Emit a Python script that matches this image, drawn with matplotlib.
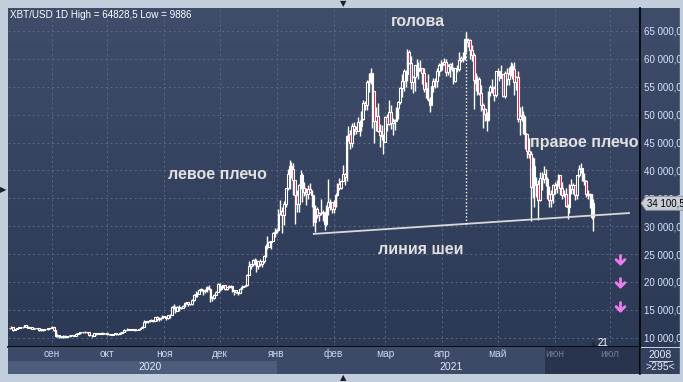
import matplotlib
matplotlib.use("Agg")
import matplotlib.pyplot as plt
import matplotlib.dates as mdates
import numpy as np
import pandas as pd
from matplotlib.patches import Rectangle, Polygon, FancyArrowPatch
from matplotlib.colors import LinearSegmentedColormap
from matplotlib.ticker import FuncFormatter

plt.rcParams['font.family'] = ['Liberation Sans', 'DejaVu Sans']

# ---------------- data (thousands USD): (close, high, low) per day ----------------
start_date = "2020-08-09"
first_open = 11.75
aug20 = [(11.68, 11.81, 11.53), (11.89, 12.06, 11.66), (11.39, 11.93, 11.15), (11.57, 11.61, 11.32),
         (11.78, 11.79, 11.51), (11.76, 11.98, 11.69), (11.85, 11.94, 11.72), (11.91, 11.92, 11.71),
         (12.25, 12.36, 11.84), (11.99, 12.30, 11.88), (11.76, 12.02, 11.68), (11.88, 11.89, 11.66),
         (11.59, 11.92, 11.53), (11.68, 11.69, 11.52), (11.66, 11.72, 11.60), (11.77, 11.80, 11.62),
         (11.37, 11.79, 11.15), (11.49, 11.53, 11.27), (11.32, 11.56, 11.19), (11.54, 11.55, 11.30),
         (11.51, 11.57, 11.47), (11.71, 11.71, 11.46), (11.68, 11.77, 11.60)]
sep20 = [(11.97, 12.07, 11.65), (11.41, 11.96, 11.24), (10.25, 11.46, 10.17), (10.51, 10.66, 10.10),
         (10.17, 10.54, 9.886), (10.28, 10.34, 10.01), (10.37, 10.40, 9.98), (10.13, 10.44, 9.91),
         (10.24, 10.35, 10.12), (10.36, 10.48, 10.22), (10.40, 10.41, 10.20), (10.44, 10.48, 10.36),
         (10.32, 10.55, 10.22), (10.68, 10.78, 10.30), (10.80, 10.93, 10.63), (10.97, 11.09, 10.71),
         (10.95, 11.03, 10.83), (10.94, 11.03, 10.84), (11.09, 11.16, 10.91), (10.94, 11.10, 10.80),
         (10.46, 10.98, 10.37), (10.54, 10.57, 10.41), (10.25, 10.54, 10.15), (10.76, 10.79, 10.22),
         (10.69, 10.76, 10.56), (10.75, 10.77, 10.65), (10.78, 10.80, 10.64), (10.71, 10.95, 10.68),
         (10.84, 10.85, 10.67), (10.78, 10.85, 10.71)]
oct20 = [(10.62, 10.91, 10.53), (10.58, 10.63, 10.43), (10.55, 10.60, 10.51), (10.67, 10.69, 10.53),
         (10.79, 10.80, 10.63), (10.60, 10.80, 10.54), (10.67, 10.68, 10.57), (10.92, 10.94, 10.63),
         (11.06, 11.10, 10.84), (11.30, 11.49, 11.06), (11.38, 11.43, 11.28), (11.56, 11.70, 11.31),
         (11.43, 11.56, 11.37), (11.43, 11.55, 11.30), (11.50, 11.54, 11.30), (11.32, 11.54, 11.22),
         (11.36, 11.38, 11.30), (11.48, 11.49, 11.34), (11.74, 11.82, 11.41), (11.92, 12.01, 11.68),
         (12.82, 13.18, 11.90), (12.97, 13.02, 12.72), (12.93, 13.00, 12.72), (13.11, 13.15, 12.90),
         (13.03, 13.34, 12.91), (13.08, 13.23, 12.77), (13.65, 13.77, 13.06), (13.27, 13.86, 12.99),
         (13.44, 13.63, 12.98), (13.55, 13.68, 13.13), (13.78, 14.03, 13.47)]
nov20 = [(13.74, 13.86, 13.66), (13.55, 13.82, 13.24), (14.02, 14.07, 13.36), (14.15, 14.22, 13.53),
         (15.59, 15.74, 14.09), (15.58, 15.96, 15.18), (14.82, 15.77, 14.42), (15.48, 15.65, 14.74),
         (15.33, 15.79, 14.85), (15.29, 15.46, 15.08), (15.70, 15.93, 15.28), (16.28, 16.32, 15.44),
         (16.32, 16.46, 15.99), (16.07, 16.32, 15.73), (15.96, 16.12, 15.82), (16.72, 16.88, 15.87),
         (17.65, 17.80, 16.57), (17.80, 18.39, 17.24), (17.82, 18.11, 17.36), (18.62, 18.77, 17.77),
         (18.64, 18.93, 18.42), (18.37, 18.68, 17.73), (18.36, 18.75, 18.08), (19.11, 19.35, 18.16),
         (18.73, 19.40, 18.57), (17.15, 18.89, 16.35), (17.11, 17.39, 16.50), (17.72, 17.86, 16.88),
         (18.18, 18.31, 17.57), (19.63, 19.75, 18.18)]
dec20 = [(18.80, 19.87, 18.33), (19.20, 19.31, 18.55), (19.45, 19.53, 18.93), (18.70, 19.47, 18.61),
         (19.15, 19.16, 18.59), (19.35, 19.42, 18.94), (19.19, 19.38, 18.92), (18.32, 19.28, 18.25),
         (18.55, 18.62, 17.67), (18.26, 18.56, 17.93), (18.06, 18.27, 17.60), (18.80, 18.92, 18.03),
         (19.14, 19.39, 18.75), (19.25, 19.31, 19.00), (19.42, 19.53, 19.05), (21.31, 21.46, 19.30),
         (22.81, 23.77, 21.24), (23.14, 23.25, 22.39), (23.87, 24.17, 22.85), (23.48, 24.20, 23.12),
         (22.80, 24.10, 21.82), (23.78, 23.84, 22.35), (23.24, 24.08, 22.77), (23.74, 23.78, 22.70),
         (24.66, 24.79, 23.45), (26.44, 26.72, 24.52), (26.27, 28.29, 25.92), (27.08, 27.39, 26.21),
         (27.36, 27.37, 25.92), (28.84, 28.92, 27.33), (29.00, 29.60, 28.00)]
jan21 = [(29.37, 29.60, 28.80), (32.13, 33.16, 29.09), (32.78, 34.61, 32.06), (31.97, 33.44, 28.72),
         (33.99, 34.44, 30.22), (36.82, 36.88, 33.51), (39.37, 40.18, 36.49), (40.80, 41.95, 36.63),
         (40.25, 41.44, 38.72), (38.36, 41.35, 35.55), (35.57, 38.26, 30.42), (33.92, 36.57, 32.53),
         (37.32, 37.60, 32.58), (39.19, 40.00, 36.70), (36.83, 39.50, 34.41), (36.18, 37.86, 35.40),
         (35.79, 36.85, 33.85), (36.63, 37.30, 34.84), (36.07, 37.80, 35.99), (35.55, 36.42, 33.40),
         (30.83, 35.55, 30.07), (33.01, 33.81, 28.95), (32.07, 33.45, 31.39), (32.29, 32.56, 30.96),
         (32.37, 34.80, 32.09), (32.57, 32.89, 30.84), (30.43, 32.56, 29.24), (33.47, 33.78, 30.02),
         (34.32, 38.41, 31.99), (34.27, 34.83, 32.81), (33.11, 34.33, 32.30)]
feb21 = [(33.54, 34.64, 32.30), (35.51, 35.90, 33.42), (37.47, 37.66, 35.40), (36.93, 38.59, 36.43),
         (38.14, 38.32, 36.62), (39.27, 40.88, 38.16), (38.90, 39.62, 37.45), (46.20, 46.39, 38.08),
         (46.48, 48.03, 45.26), (44.92, 47.18, 43.83), (47.91, 48.50, 44.27), (47.50, 48.72, 46.40),
         (47.11, 48.04, 46.50), (48.72, 49.60, 47.05), (47.95, 49.00, 46.20), (49.20, 50.60, 47.12),
         (52.15, 52.60, 48.95), (51.68, 52.50, 50.90), (55.89, 56.20, 50.75), (56.10, 57.50, 54.00),
         (57.54, 58.35, 55.50), (54.21, 57.50, 47.60), (48.82, 54.20, 44.90), (49.71, 51.30, 47.00),
         (47.09, 52.00, 46.90), (46.34, 48.30, 44.20), (46.19, 48.20, 45.40), (45.14, 46.50, 43.00)]
mar21 = [(49.63, 49.80, 45.10), (48.38, 50.10, 47.10), (50.54, 52.60, 48.20), (48.56, 51.70, 47.50),
         (48.93, 49.40, 46.30), (48.91, 49.20, 47.20), (51.21, 51.40, 48.90), (52.25, 52.40, 49.30),
         (54.82, 54.90, 51.90), (56.01, 57.30, 53.10), (57.81, 58.10, 54.30), (57.33, 58.00, 55.00),
         (61.24, 61.70, 56.10), (59.30, 61.50, 59.00), (55.91, 60.50, 54.60), (56.80, 56.90, 53.80),
         (58.87, 58.90, 54.20), (57.86, 60.00, 57.00), (58.35, 59.40, 56.30), (58.31, 59.80, 57.90),
         (57.52, 58.40, 55.50), (54.53, 58.30, 54.00), (54.74, 55.80, 53.00), (52.78, 57.20, 52.50),
         (51.70, 53.20, 50.40), (55.14, 55.20, 51.70), (55.97, 56.50, 54.00), (55.95, 56.50, 54.70),
         (57.75, 58.40, 55.00), (58.92, 59.30, 57.00), (58.92, 59.80, 57.90)]
apr21 = [(59.10, 59.50, 58.00), (59.38, 60.10, 58.90), (57.60, 59.90, 57.00), (58.76, 59.00, 57.10),
         (59.06, 59.20, 56.80), (58.19, 59.40, 57.90), (56.05, 58.60, 55.50), (58.32, 58.40, 55.90),
         (58.25, 58.90, 57.70), (59.79, 61.20, 57.90), (60.20, 60.60, 59.40), (59.89, 61.20, 59.40),
         (63.50, 63.70, 59.80), (63.11, 64.83, 61.30), (63.31, 63.80, 62.10), (61.57, 63.50, 60.00),
         (60.68, 62.50, 59.60), (56.22, 61.00, 51.00), (55.72, 57.50, 54.20), (56.47, 57.00, 53.50),
         (53.91, 56.70, 53.60), (51.76, 55.40, 50.60), (51.09, 52.00, 47.60), (50.05, 51.10, 48.90),
         (49.00, 50.50, 47.00), (54.02, 54.30, 48.80), (55.03, 55.40, 53.30), (54.82, 56.40, 53.90),
         (53.56, 55.10, 52.40), (57.75, 57.90, 53.10)]
may21 = [(57.83, 58.40, 57.00), (56.63, 57.90, 56.10), (57.20, 58.90, 56.50), (53.33, 57.10, 53.10),
         (57.42, 57.90, 52.90), (56.40, 58.30, 55.30), (57.36, 58.60, 55.40), (58.80, 59.40, 56.90),
         (58.23, 59.30, 56.30), (55.86, 59.50, 53.50), (56.70, 56.90, 54.40), (49.15, 57.90, 48.60),
         (49.72, 51.30, 46.40), (49.88, 51.50, 48.80), (46.76, 50.60, 46.60), (46.46, 49.70, 43.90),
         (43.54, 46.60, 42.20), (42.91, 45.80, 42.30), (37.00, 43.50, 31.00), (40.78, 42.40, 35.00),
         (37.30, 42.20, 33.50), (37.54, 38.80, 35.30), (34.77, 38.20, 31.10), (38.71, 39.80, 34.60),
         (38.40, 39.70, 36.50), (39.30, 40.80, 37.80), (38.44, 40.30, 37.20), (35.70, 38.80, 34.80),
         (34.62, 37.20, 33.40), (35.68, 36.40, 33.50), (37.33, 37.50, 34.20)]
jun21 = [(36.69, 37.90, 35.70), (37.58, 38.20, 35.95), (39.19, 39.40, 37.20), (36.85, 39.20, 35.60),
         (35.52, 37.90, 34.80), (35.80, 36.50, 35.30), (33.55, 36.80, 33.40), (33.38, 34.00, 31.20),
         (37.39, 37.50, 32.40), (36.70, 38.40, 35.80), (37.31, 37.70, 35.70), (35.55, 37.40, 34.70),
         (39.10, 39.20, 34.80), (40.22, 41.00, 38.80), (40.41, 41.30, 39.50), (38.35, 40.50, 38.10),
         (38.05, 39.50, 37.40), (35.79, 38.20, 35.20), (35.62, 36.40, 34.90), (35.70, 36.00, 33.30),
         (31.68, 35.70, 31.30), (34.1005, 34.90, 29.10)]

neck_dates = ["2021-01-20 16:00", "2021-07-11 20:00"]
neck_values = [28.6, 32.36]
head_date = "2021-04-14"

price_levels = [10, 15, 20, 25, 30, 35, 40, 45, 50, 55, 60, 65]
month_starts = ["2020-09-01", "2020-10-01", "2020-11-01", "2020-12-01", "2021-01-01", "2021-02-01",
                "2021-03-01", "2021-04-01", "2021-05-01", "2021-06-01", "2021-07-01"]
month_names = ["сен", "окт", "ноя", "дек", "янв", "фев", "мар", "апр", "май", "июн", "июл"]
year_names = ["2020", "2021"]
year_label_dates = ["2020-10-24", "2021-04-06"]
last_price_text = "34 100,5"
title_text = "XBT/USD 1D High = 64828,5 Low = 9886"

# ---------------- assemble ----------------
rows = aug20 + sep20 + oct20 + nov20 + dec20 + jan21 + feb21 + mar21 + apr21 + may21 + jun21
closes = np.array([r[0] for r in rows])
highs = np.array([r[1] for r in rows])
lows = np.array([r[2] for r in rows])
opens = np.concatenate([[first_open], closes[:-1]])
dates = pd.date_range(start_date, periods=len(rows), freq="D")
xd = mdates.date2num(dates.to_pydatetime())

W, H = 683, 382
def fx(px): return px / W
def fy(py): return 1 - py / H

BG = '#c3cedc'
fig = plt.figure(figsize=(W / 100, H / 100), dpi=100, facecolor=BG)

# gradient background for plot + right scale panel
bg_ax = fig.add_axes([fx(8), fy(347), fx(680) - fx(8), fy(8) - fy(347)], zorder=-1)
bg_ax.imshow(np.linspace(0, 1, 256).reshape(-1, 1),
             cmap=LinearSegmentedColormap.from_list('bg', ['#3f4d6b', '#2c3955']),
             aspect='auto', extent=[0, 1, 0, 1])
bg_ax.set_axis_off()

ax = fig.add_axes([fx(8), fy(347), fx(640) - fx(8), fy(8) - fy(347)])
ax.set_facecolor('none')
x0 = mdates.date2num(pd.Timestamp("2020-08-08 03:00"))
x1 = mdates.date2num(pd.Timestamp("2021-07-17 07:00"))
ax.set_xlim(x0, x1)
ax.set_ylim(8.33, 69.12)

# grid
ax.set_yticks(price_levels)
ax.set_xticks(mdates.date2num(pd.to_datetime(month_starts).to_pydatetime()))
ax.grid(True, color='#5a6987', linestyle=(0, (2, 3)), linewidth=0.7)
ax.tick_params(axis='x', length=0, labelbottom=False)
ax.tick_params(axis='y', left=False, labelleft=False, right=False, labelright=True,
               length=0, pad=3, labelsize=7, labelcolor='#d6e4fb')
ax.yaxis.set_major_formatter(FuncFormatter(
    lambda v, p: f"{int(round(v * 1000)):,}".replace(',', ' ') + ",00"))
for s in ['left', 'top']:
    ax.spines[s].set_visible(False)
ax.spines['right'].set_color('black')
ax.spines['bottom'].set_color('black')
ax.spines['right'].set_linewidth(1.2)
ax.spines['bottom'].set_linewidth(1.2)

# candles
bull = closes >= opens
face = np.where(bull, '#34425f', '#e8103c')
body_lo = np.minimum(opens, closes)
body_h = np.maximum(np.abs(closes - opens), 0.1)
ax.vlines(xd, lows, highs, colors='white', linewidth=1.0, zorder=3)
ax.bar(xd, body_h, bottom=body_lo, width=0.9, color=face, edgecolor='white',
       linewidth=0.8, zorder=4)

# neckline and head marker
nd = mdates.date2num(pd.to_datetime(neck_dates).to_pydatetime())
ax.plot(nd, neck_values, color='#d8d8d8', linewidth=1.3, zorder=5, solid_capstyle='butt')
hd = mdates.date2num(pd.Timestamp(head_date))
head_high = highs[list(dates).index(pd.Timestamp(head_date))]
ax.vlines([hd], [np.interp(hd, nd, neck_values)], [head_high], colors='white',
          linestyles=(0, (1, 1.5)), linewidth=1.0, zorder=5)

# bottom time axis band
ax_b = fig.add_axes([fx(8), fy(374), fx(640) - fx(8), fy(347) - fy(374)], sharex=ax)
ax_b.set_facecolor('#3c4a68')
ax_b.set_ylim(0, 1)
ax_b.set_yticks([])
ax_b.tick_params(axis='x', length=0, labelbottom=False)
jan1 = mdates.date2num(pd.Timestamp("2021-01-01"))
ax_b.axvspan(x0, jan1, ymin=0, ymax=0.5, color='#4c5c7b', linewidth=0)
ax_b.add_patch(Rectangle((0.8497, 0), 1 - 0.8497, 1, transform=ax_b.transAxes,
                         color='#28334d', linewidth=0))
for s in ['left', 'top', 'bottom']:
    ax_b.spines[s].set_visible(False)
ax_b.spines['right'].set_color('black')
ax_b.spines['right'].set_linewidth(1.2)
dark_start = x0 + 0.8497 * (x1 - x0)
for d, name in zip(month_starts, month_names):
    xm = mdates.date2num(pd.Timestamp(d))
    col = '#6c7b99' if xm > dark_start else '#c8d6ee'
    ax_b.text(xm, 0.74, name, ha='center', va='center', fontsize=7.3, color=col)
for d, name in zip(year_label_dates, year_names):
    ax_b.text(mdates.date2num(pd.Timestamp(d)), 0.25, name, ha='center', va='center',
              fontsize=7.5, color='#e2e9f4')

# bottom-right box
ax_c = fig.add_axes([fx(641), fy(374), fx(680) - fx(641), fy(348) - fy(374)])
ax_c.set_facecolor('#34415e')
ax_c.set_xticks([]); ax_c.set_yticks([])
for s in ax_c.spines.values():
    s.set_visible(False)
ax_c.text(0.5, 0.72, "2008", ha='center', va='center', fontsize=7.5, color='#e6ecf6',
          transform=ax_c.transAxes)
ax_c.plot([0.2, 0.8], [0.5, 0.5], color='#e6ecf6', linewidth=0.6, transform=ax_c.transAxes)
ax_c.text(0.5, 0.25, ">295<", ha='center', va='center', fontsize=7.5, color='#e6ecf6',
          transform=ax_c.transAxes)

# title
fig.text(fx(10), fy(15), title_text, ha='left', va='center', fontsize=7.1, color='white')

# annotations
ann_kw = dict(ha='center', va='center', fontsize=11.5, color='#e0e0e0', fontweight='bold',
              family=['Liberation Sans', 'DejaVu Sans'])
fig.text(fx(217), fy(175), "левое плечо", **ann_kw)
fig.text(fx(418), fy(22), "голова", **ann_kw)
fig.text(fx(584), fy(142), "правое плечо", **ann_kw)
fig.text(fx(421), fy(250), "линия шеи", **ann_kw)

# pink arrows
for py in [261, 284, 308]:
    fig.add_artist(FancyArrowPatch(
        (fx(620.5), fy(py - 5.5)), (fx(620.5), fy(py + 5)), transform=fig.transFigure,
        arrowstyle='->,head_length=0.4,head_width=0.4', mutation_scale=8,
        shrinkA=0, shrinkB=0, color='#ec7cf0', linewidth=2.0, zorder=8))

# day marker
fig.text(fx(603), fy(342.5), "21", ha='center', va='center', fontsize=7, color='white')
fig.text(fx(593), fy(343.5), "▲", ha='center', va='center', fontsize=4.5, color='#1e2638',
         family='DejaVu Sans')

# right border strip covering label overflow
fig.patches.append(Rectangle((fx(680), 0), 1 - fx(680), 1, transform=fig.transFigure,
                             color=BG, zorder=10))

# last price tag
fig.canvas.draw()
ydisp = ax.transData.transform((x0, closes[-1]))[1]
yf = fig.transFigure.inverted().transform((0, ydisp))[1]
hh = 7 / H
tag = Polygon([(fx(641), yf), (fx(646), yf + hh), (1.0, yf + hh), (1.0, yf - hh),
               (fx(646), yf - hh)], closed=True, transform=fig.transFigure,
              facecolor='#c9cdd5', edgecolor='#8a909c', linewidth=0.6, zorder=11)
fig.patches.append(tag)
fig.text(fx(647), yf, last_price_text, ha='left', va='center', fontsize=7, color='black',
         zorder=12)

# frame triangles
tri_kw = dict(ha='center', va='center', fontsize=6, color='#1a1f2c', family='DejaVu Sans')
fig.text(fx(343), fy(3.5), "▼", **tri_kw)
fig.text(fx(343), fy(378), "▲", **tri_kw)
fig.text(fx(3), fy(190), "▶", **tri_kw)

fig.savefig("out.png", dpi=100, facecolor=BG)
